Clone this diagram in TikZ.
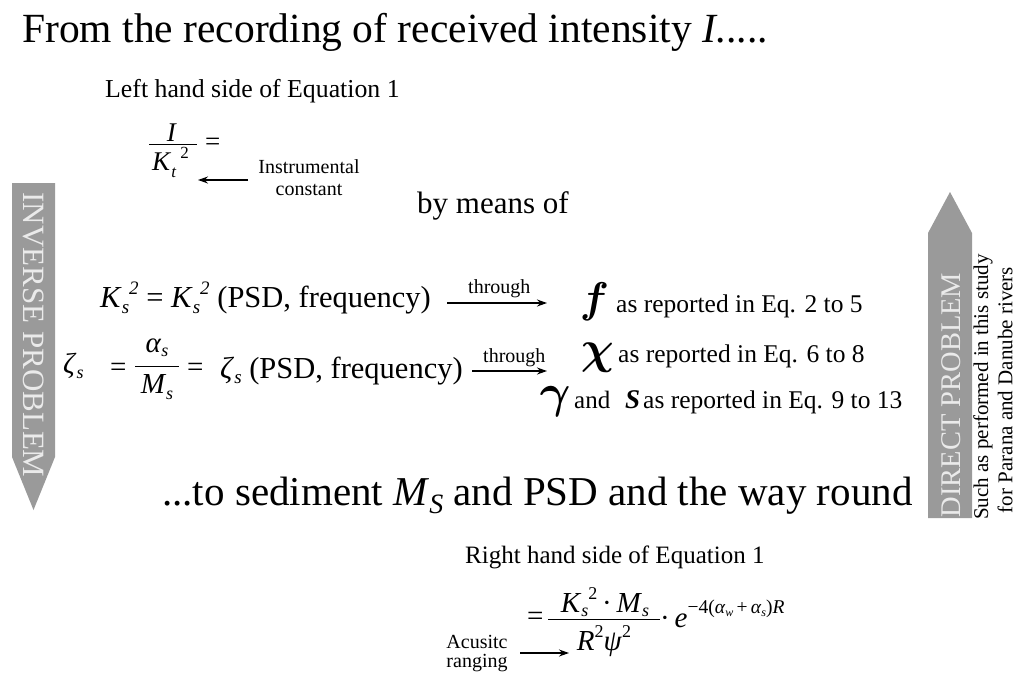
\documentclass[tikz,border=0pt]{standalone}
\usepackage{fontspec}
\setmainfont{Liberation Serif}
\usetikzlibrary{arrows.meta}
\newcommand\fs[1]{\fontsize{#1}{#1}\selectfont}
\newcommand\dn[3]{\raisebox{-#2}{\fontsize{#1}{#1}\selectfont #3}}
\newcommand\upx[3]{\raisebox{#2}{\fontsize{#1}{#1}\selectfont #3}}
\definecolor{bannergray}{HTML}{9A9A9A}
\definecolor{bannertext}{HTML}{EAEAEA}
\tikzset{
  txt/.style={inner sep=0pt, anchor=base west},
  ctr/.style={inner sep=0pt, anchor=base},
  arr/.style={-{Stealth[length=10pt,width=7pt]}, line width=1.4pt},
  bar/.style={line width=1pt},
  banner/.style={fill=bannergray, draw=none},
  bantext/.style={inner sep=0pt, text=bannertext},
  side/.style={inner sep=0pt, rotate=90, font=\fs{21}},
  big/.style={inner sep=0pt, anchor=base west, font=\boldmath}
}
\begin{document}
\begin{tikzpicture}[x=1pt,y=-1pt]
\useasboundingbox (0,0) rectangle (1024,685);
% title
\node[txt,font=\fs{41.5}] (title) at (22,42) {From the recording of received intensity \textit{I}.....};
% left hand side
\node[txt,font=\fs{25.8}] (lhs) at (105,97) {Left hand side of Equation 1};
\node[ctr,font=\fs{27}] (I) at (172,141) {\textit{I}};
\draw[bar] (149,144.5) -- (197,144.5);
\node[txt,font=\fs{27}] (Kt) at (152,170) {\textit{K}\dn{17pt}{7pt}{\textit{t}}\hspace{4pt}\upx{17pt}{12pt}{2}};
\node[txt,font=\fs{27}] (eqL) at (205,150) {=};
\node[ctr,font=\fs{20}] (instr) at (309,173) {Instrumental};
\node[ctr,font=\fs{20}] (const) at (309,195) {constant};
\coordinate (a1s) at (248,180);
\coordinate (a1e) at (198,180);
\draw[arr] (a1s) -- (a1e);
\node[txt,font=\fs{31}] (bymeans) at (417,213) {by means of};
% line 1
\node[txt,font=\fs{30.5}] (eq1) at (100,307) {\textit{K}\dn{19pt}{6pt}{\textit{s}}\upx{19pt}{13pt}{\textit{2}} = \textit{K}\dn{19pt}{6pt}{\textit{s}}\upx{19pt}{13pt}{\textit{2}} (PSD, frequency)};
\node[txt,font=\fs{20}] (thr1) at (468,293) {through};
\coordinate (b1s) at (447,303);
\coordinate (b1e) at (547,303);
\draw[arr] (b1s) -- (b1e);
\node[big,scale=4.3] (f) at (579,312) {$f$};
\node[txt,font=\fs{25.5}] (rep1) at (616,312) {as reported in Eq. 2 to 5};
% line 2
\node[txt,font=\fs{29}] (zeta) at (63,373) {\textit{ζ}\dn{18pt}{5pt}{\textit{s}}};
\node[txt,font=\fs{29}] (eqA) at (110,376) {=};
\node[ctr,font=\fs{29}] (alpha) at (157,352) {\textit{α}\dn{18pt}{4pt}{\textit{s}}};
\draw[bar] (135,366) -- (179,366);
\node[ctr,font=\fs{29}] (Ms) at (157,393) {\textit{M}\dn{18pt}{6pt}{\textit{s}}};
\node[txt,font=\fs{29}] (eqB) at (187,376) {=};
\node[txt,font=\fs{30.5}] (eq2) at (220,378) {\textit{ζ}\dn{19pt}{5pt}{\textit{s}} (PSD, frequency)};
\node[txt,font=\fs{20}] (thr2) at (483,362) {through};
\coordinate (b2s) at (472,371);
\coordinate (b2e) at (547,371);
\draw[arr] (b2s) -- (b2e);
\node[big,scale=4.6] (chi) at (580,363) {$\chi$};
\node[txt,font=\fs{25.5}] (rep2) at (618,362) {as reported in Eq. 6 to 8};
% line 3
\node[big,scale=4.7] (gamma) at (539,407) {$\gamma$};
\node[txt,font=\fs{25}] (and) at (574,408) {and};
\node[txt,font=\fs{27}\bfseries\itshape] (S) at (625,408) {S};
\node[txt,font=\fs{25.5}] (rep3) at (643,408) {as reported in Eq. 9 to 13};
% sediment line
\node[txt,font=\fs{41}] (sed) at (162,505) {...to sediment \textit{M}\dn{28pt}{8pt}{\textit{S}} and PSD and the way round};
% right hand side
\node[txt,font=\fs{25}] (rhs) at (465,563) {Right hand side of Equation 1};
\node[txt,font=\fs{29}] (eqR) at (527,625) {=};
\node[ctr,font=\fs{29}] (num) at (605,612) {\textit{K}\dn{18pt}{4pt}{\textit{s}}\upx{18pt}{13pt}{2}\,·\,\textit{M}\dn{18pt}{4pt}{\textit{s}}};
\draw[bar] (548,619) -- (660,619);
\node[ctr,font=\fs{29}] (den) at (604,650) {\textit{R}\upx{18pt}{13pt}{2}\textit{ψ}\upx{18pt}{13pt}{2}};
\node[txt,font=\fs{29}] (expo) at (660,627) {·\,\textit{e}\upx{19.5pt}{14pt}{−4(\textit{α}\dn{12pt}{3pt}{\textit{w}}\,+\,\textit{α}\dn{12pt}{3pt}{\textit{s}})\textit{R}}};
\node[ctr,font=\fs{20}] (acu) at (477,648) {Acusitc};
\node[ctr,font=\fs{20}] (rang) at (477,667) {ranging};
\coordinate (c1s) at (520,653);
\coordinate (c1e) at (569,653);
\draw[arr] (c1s) -- (c1e);
% left banner
\fill[banner] (12,183) -- (55,183) -- (55,457) -- (33.5,510) -- (12,457) -- cycle;
\node[bantext,rotate=-90,font=\fs{31}] (inv) at (34,335) {INVERSE PROBLEM};
% right banner
\fill[banner] (950,192) -- (972,233) -- (972,518) -- (928,518) -- (928,233) -- cycle;
\node[bantext,rotate=90,font=\fs{28.5}] (dir) at (951,395) {DIRECT PROBLEM};
\node[side] (such1) at (983,387) {Such as performed in this study};
\node[side] (such2) at (1005,390) {for Parana and Danube rivers};
\end{tikzpicture}
\end{document}
